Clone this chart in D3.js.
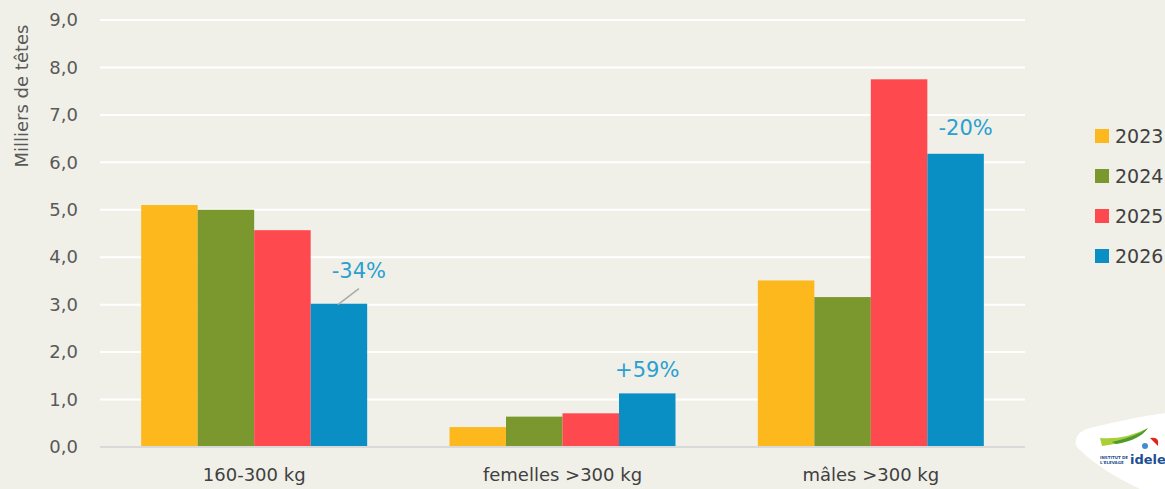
<!DOCTYPE html>
<html>
<head>
<meta charset="utf-8">
<script src="https://cdn.jsdelivr.net/npm/d3@7"></script>
<style>
  body { margin: 0; background: #f0f0e8; }
  text { font-family: "DejaVu Sans", sans-serif; }
</style>
</head>
<body>
<div id="chart"></div>
<script>
// Data
const categories = ["160-300 kg", "femelles >300 kg", "mâles >300 kg"];
const years = ["2023", "2024", "2025", "2026"];
const values2023 = [5.10, 0.42, 3.51];
const values2024 = [5.00, 0.64, 3.16];
const values2025 = [4.57, 0.71, 7.75];
const values2026 = [3.02, 1.13, 6.18];
const changeLabels = ["-34%", "+59%", "-20%"];
const yTicks = [0, 1, 2, 3, 4, 5, 6, 7, 8, 9];

const colors = ["#fdb81e", "#7a982d", "#fe4a4f", "#0a8fc5"];
const seriesValues = [values2023, values2024, values2025, values2026];

// SVG setup
let svgWidth = 1165;
let svgHeight = 489;
let margin = { top: 20, bottom: 42, left: 100, right: 140 };
let width = svgWidth - margin.left - margin.right;
let height = svgHeight - margin.top - margin.bottom;

let svg = d3.select("#chart")
    .append("svg")
    .attr("width", svgWidth)
    .attr("height", svgHeight);

svg.append("rect")
    .attr("width", svgWidth)
    .attr("height", svgHeight)
    .attr("fill", "#f0f0e8");

let chartGroup = svg.append("g")
    .attr("transform", `translate(${margin.left},${margin.top})`);

// Scales
let xScale = d3.scaleBand()
    .domain(categories)
    .range([0, width])
    .paddingInner(0.267)
    .paddingOuter(0.1335);

let xInner = d3.scaleBand()
    .domain(years)
    .range([0, xScale.bandwidth()]);

let yScale = d3.scaleLinear()
    .domain([0, 9])
    .range([height, 0]);

// Gridlines
chartGroup.append("g")
    .selectAll("line")
    .data(yTicks.filter(d => d > 0))
    .enter()
    .append("line")
    .attr("x1", 0)
    .attr("x2", width)
    .attr("y1", d => yScale(d))
    .attr("y2", d => yScale(d))
    .attr("stroke", "#ffffff")
    .attr("stroke-width", 2);

// Y axis labels
let leftAxis = d3.axisLeft(yScale)
    .tickValues(yTicks)
    .tickSize(0)
    .tickPadding(22)
    .tickFormat(d => d3.format(".1f")(d).replace(".", ","));
let yAxisG = chartGroup.append("g").call(leftAxis);
yAxisG.select(".domain").remove();
yAxisG.selectAll("text")
    .attr("fill", "#595959")
    .attr("font-size", "18px");

// Bars
let groups = chartGroup.selectAll(".cat")
    .data(categories)
    .enter()
    .append("g")
    .attr("class", "cat")
    .attr("transform", d => `translate(${xScale(d)},0)`);

groups.selectAll("rect")
    .data((d, i) => years.map((y, j) => ({ year: y, value: seriesValues[j][i], color: colors[j] })))
    .enter()
    .append("rect")
    .attr("x", d => xInner(d.year))
    .attr("y", d => yScale(d.value))
    .attr("width", xInner.bandwidth())
    .attr("height", d => height - yScale(d.value))
    .attr("fill", d => d.color);

// Baseline
chartGroup.append("line")
    .attr("x1", 0)
    .attr("x2", width)
    .attr("y1", height)
    .attr("y2", height)
    .attr("stroke", "#d9d9d9")
    .attr("stroke-width", 2);

// X axis labels
let bottomAxis = d3.axisBottom(xScale).tickSize(0).tickPadding(21);
let xAxisG = chartGroup.append("g")
    .attr("transform", `translate(0,${height})`)
    .call(bottomAxis);
xAxisG.select(".domain").remove();
xAxisG.selectAll("text")
    .attr("fill", "#404040")
    .attr("font-size", "18px");

// Change annotations above the 2026 bars
let annoOffsets = [
    { dx: 20, dy: -26 },
    { dx: 0, dy: -16 },
    { dx: 10, dy: -19 }
];
categories.forEach((cat, i) => {
    let bx = xScale(cat) + xInner("2026") + xInner.bandwidth() / 2;
    let by = yScale(values2026[i]);
    chartGroup.append("text")
        .attr("x", bx + annoOffsets[i].dx)
        .attr("y", by + annoOffsets[i].dy)
        .attr("text-anchor", "middle")
        .attr("fill", "#2a9fd0")
        .attr("font-size", "21px")
        .text(changeLabels[i]);
    if (i === 0) {
        chartGroup.append("line")
            .attr("x1", bx - 1)
            .attr("y1", by + 1)
            .attr("x2", bx + 20)
            .attr("y2", by - 15)
            .attr("stroke", "#aaaaaa")
            .attr("stroke-width", 1.5);
    }
});

// Y axis title
svg.append("text")
    .attr("transform", "rotate(-90)")
    .attr("x", -96)
    .attr("y", 28)
    .attr("text-anchor", "middle")
    .attr("fill", "#595959")
    .attr("font-size", "18px")
    .text("Milliers de têtes");

// Legend
let legend = svg.append("g")
    .attr("transform", "translate(1095,136)");
years.forEach((y, i) => {
    let row = legend.append("g").attr("transform", `translate(0,${i * 40})`);
    row.append("rect")
        .attr("x", 0)
        .attr("y", -7)
        .attr("width", 14)
        .attr("height", 14)
        .attr("fill", colors[i]);
    row.append("text")
        .attr("x", 20)
        .attr("y", 7)
        .attr("fill", "#404040")
        .attr("font-size", "19px")
        .text(y);
});

// Logo badge (bottom right)
let logo = svg.append("g");
logo.append("path")
    .attr("d", "M1076,441 Q1076,432 1090,428 Q1130,418 1165,413 L1165,489 L1140,489 Q1100,470 1080,450 Q1074,445 1076,441 Z")
    .attr("fill", "#ffffff");
logo.append("path")
    .attr("d", "M1100,438 Q1125,440 1148,428 Q1135,442 1102,446 Z")
    .attr("fill", "#a8cf38");
logo.append("path")
    .attr("d", "M1112,442 Q1135,437 1148,428 Q1140,440 1116,444 Z")
    .attr("fill", "#4f9a2e");
logo.append("path")
    .attr("d", "M1150,438 Q1160,436 1158,446 Q1154,442 1150,438 Z")
    .attr("fill", "#e2231a");
logo.append("circle")
    .attr("cx", 1145)
    .attr("cy", 446)
    .attr("r", 3)
    .attr("fill", "#3f8fd0");
logo.append("text")
    .attr("x", 1130)
    .attr("y", 464)
    .attr("fill", "#1d4f91")
    .attr("font-size", "13px")
    .attr("font-weight", "bold")
    .text("idele");
logo.append("text")
    .attr("x", 1100)
    .attr("y", 459)
    .attr("fill", "#1d4f91")
    .attr("font-size", "4px")
    .attr("font-weight", "bold")
    .text("INSTITUT DE");
logo.append("text")
    .attr("x", 1100)
    .attr("y", 464)
    .attr("fill", "#1d4f91")
    .attr("font-size", "4px")
    .attr("font-weight", "bold")
    .text("L'ELEVAGE");
</script>
</body>
</html>
